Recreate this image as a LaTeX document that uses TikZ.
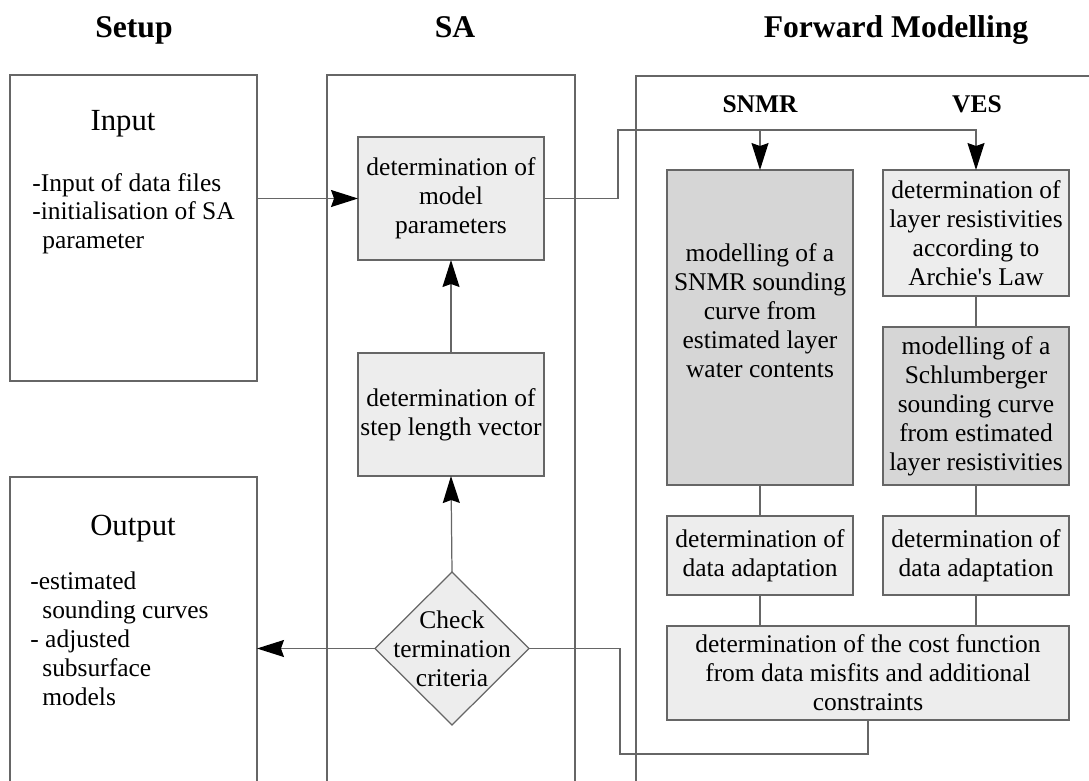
\documentclass[tikz,border=0pt]{standalone}
\usepackage{fontspec}
\setmainfont{Liberation Serif}
\usetikzlibrary{arrows.meta,shapes.geometric}
\tikzset{>={Stealth[length=0.54cm,width=0.34cm,inset=0.06cm,color=black]}}
\tikzset{
  frame/.style={draw=black!60, line width=0.7pt, inner sep=0pt, outer sep=0pt},
  lightbox/.style={frame, fill=black!7, align=center, font=\fontsize{14.5}{16.5}\selectfont},
  darkbox/.style={lightbox, fill=black!16},
  boxtext/.style={align=center, font=\fontsize{14.5}{16.5}\selectfont},
  link/.style={draw=black!60, line width=0.7pt},
  coltitle/.style={font=\fontsize{18}{20}\selectfont\bfseries, anchor=base},
  subtitle/.style={font=\fontsize{14.5}{16}\selectfont\bfseries, anchor=base},
  headtext/.style={font=\fontsize{17.5}{20}\selectfont, anchor=base},
  listtext/.style={align=left, anchor=north west, inner sep=0pt},
}

\begin{document}
\begin{tikzpicture}[x=0.02cm, y=-0.02cm]
\useasboundingbox (0,0) rectangle (1089,781);
\clip (0,0) rectangle (1089,781);
\node[coltitle] (setup) at (134,37) {Setup};
\node[coltitle] (satitle) at (455,37) {SA};
\node[coltitle] (fmtitle) at (896,37) {Forward Modelling};
\node[frame, minimum width=4.94cm, minimum height=6.12cm] (input) at (133.5,228) {};
\node[frame, minimum width=4.94cm, minimum height=6.46cm] (output) at (133.5,638.5) {};
\node[frame, minimum width=4.96cm, minimum height=14.5cm] (saframe) at (451,437.5) {};
\node[frame, minimum width=9.28cm, minimum height=14.48cm] (fmframe) at (868,438) {};
\node[headtext] (inhead) at (123,130) {Input};
\node[listtext, font=\fontsize{14.5}{16.2}\selectfont] (initems) at (32,173) {-Input of data files\\-initialisation of SA\\\hspace*{0.2cm}parameter};
\node[headtext] (outhead) at (133,535) {Output};
\node[listtext, font=\fontsize{14.5}{16.6}\selectfont] (outitems) at (30,571) {-estimated\\\hspace*{0.24cm}sounding curves\\- adjusted\\\hspace*{0.24cm}subsurface\\\hspace*{0.24cm}models};
\node[subtitle] (snmrlab) at (760,112) {SNMR};
\node[subtitle] (veslab) at (977,112) {VES};
\node[lightbox, minimum width=3.72cm, minimum height=2.46cm] (modelpar) at (451,198.5) {determination of\\model\\parameters};
\node[lightbox, minimum width=3.72cm, minimum height=2.46cm] (steplen) at (451,414.5) {determination of\\step length vector};
\node[frame, diamond, fill=black!7, minimum width=3.08cm, minimum height=3.06cm] (chk) at (452,648.5) {};
\node[boxtext] (chktext) at (chk.center) {Check\\termination\\criteria};
\node[darkbox, minimum width=3.72cm, minimum height=6.30cm] (snmr) at (760,327.5) {};
\node[boxtext] (snmrtext) at (760,311) {modelling of a\\SNMR sounding\\curve from\\estimated layer\\water contents};
\node[lightbox, minimum width=3.72cm, minimum height=2.52cm] (vesA) at (976,233) {determination of\\layer resistivities\\according to\\Archie\textquotesingle s Law};
\node[darkbox, minimum width=3.72cm, minimum height=3.16cm] (vesB) at (976,406) {modelling of a\\Schlumberger\\sounding curve\\from estimated\\layer resistivities};
\node[lightbox, minimum width=3.72cm, minimum height=1.58cm] (adaptA) at (760,555.5) {determination of\\data adaptation};
\node[lightbox, minimum width=3.72cm, minimum height=1.58cm] (adaptB) at (976,555.5) {determination of\\data adaptation};
\node[lightbox, minimum width=8.04cm, minimum height=1.88cm] (cost) at (868,673) {determination of the cost function\\from data misfits and additional\\constraints};
\coordinate (fork) at (618,130);
\coordinate (back) at (620,754);
\draw[link,->] (input.east |- modelpar.west) -- (modelpar.west);
\draw[link,->] (steplen.north) -- (modelpar.south);
\draw[link,->] (chk.north) -- (steplen.south);
\draw[link,->] (chk.west) -- (output.east |- chk.west);
\draw[link,->] (modelpar.east) -| (fork) -| (vesA.north);
\draw[link,->] (snmr.north |- fork) -- (snmr.north);
\draw[link] (snmr.south) -- (adaptA.north);
\draw[link] (vesA.south) -- (vesB.north);
\draw[link] (vesB.south) -- (adaptB.north);
\draw[link] (adaptA.south) -- (adaptA.south |- cost.north);
\draw[link] (adaptB.south) -- (adaptB.south |- cost.north);
\draw[link] (cost.south) |- (back) |- (chk.east);
\end{tikzpicture}
\end{document}
